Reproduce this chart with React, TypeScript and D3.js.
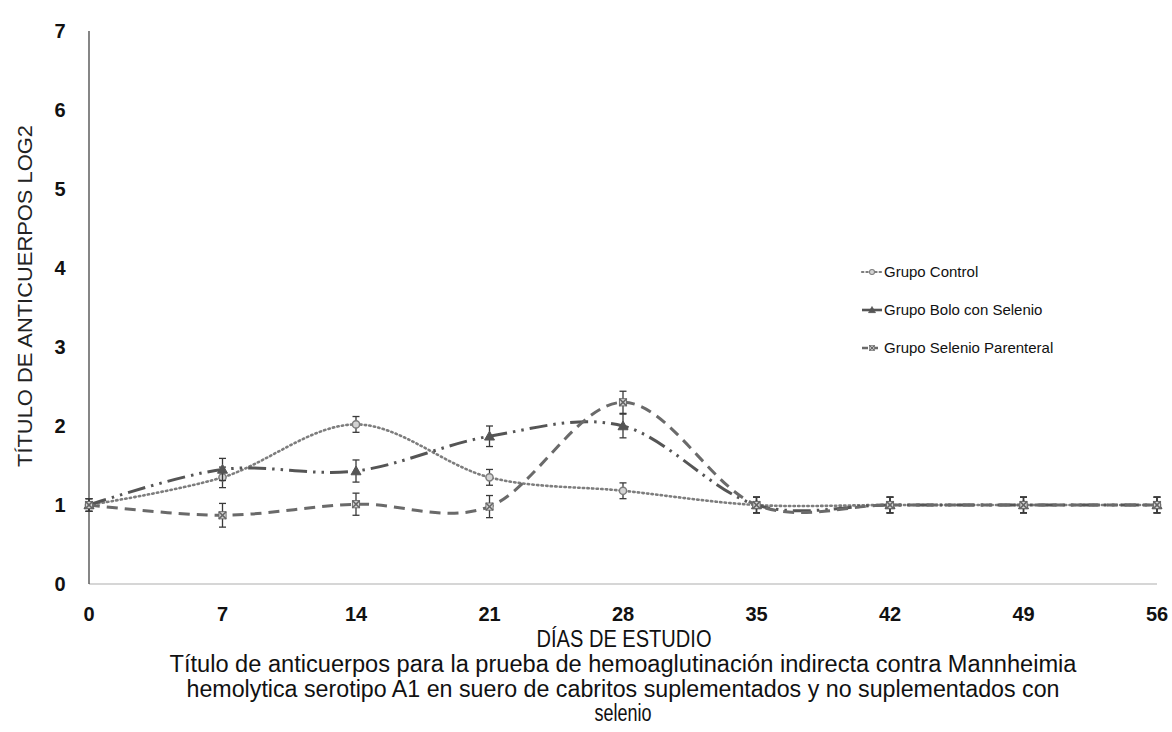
import React from "react";
import * as d3 from "d3";

const days = [0, 7, 14, 21, 28, 35, 42, 49, 56];
const yTicks = [0, 1, 2, 3, 4, 5, 6, 7];

const controlValues = [1.0, 1.35, 2.02, 1.35, 1.18, 1.0, 1.0, 1.0, 1.0];
const controlErrors = [0.08, 0.13, 0.1, 0.1, 0.1, 0.1, 0.1, 0.1, 0.1];

const boloValues = [1.0, 1.45, 1.43, 1.87, 2.0, 1.0, 1.0, 1.0, 1.0];
const boloErrors = [0.08, 0.14, 0.14, 0.13, 0.15, 0.1, 0.1, 0.1, 0.1];

const parenteralValues = [1.0, 0.87, 1.01, 0.98, 2.3, 1.0, 1.0, 1.0, 1.0];
const parenteralErrors = [0.08, 0.15, 0.14, 0.14, 0.14, 0.1, 0.1, 0.1, 0.1];

const seriesNames = ["Grupo Control", "Grupo Bolo con Selenio", "Grupo Selenio Parenteral"];

const captionLines = [
  "Título de anticuerpos para la prueba de hemoaglutinación indirecta  contra  Mannheimia",
  "hemolytica serotipo  A1 en suero de cabritos suplementados y no suplementados con",
  "selenio",
];
const captionWidths = [907, 873, 57];

type Series = {
  name: string;
  values: number[];
  errors: number[];
  color: string;
  dash: string;
  legendDash: string;
  width: number;
  cap: "round" | "butt";
  marker: "circle" | "triangle" | "x";
};

const series: Series[] = [
  { name: seriesNames[0], values: controlValues, errors: controlErrors, color: "#7d7d7d", dash: "1.4,3.2", legendDash: "1.4,3", width: 2.6, cap: "round", marker: "circle" },
  { name: seriesNames[1], values: boloValues, errors: boloErrors, color: "#555555", dash: "18,6,2.5,6,2.5,6", legendDash: "20", width: 3, cap: "butt", marker: "triangle" },
  { name: seriesNames[2], values: parenteralValues, errors: parenteralErrors, color: "#6a6a6a", dash: "11,7", legendDash: "6,4", width: 3, cap: "butt", marker: "x" },
];

const W = 1172;
const H = 732;
const x = d3.scaleLinear().domain([0, 56]).range([89, 1157]);
const y = d3.scaleLinear().domain([0, 7]).range([584, 31]);

function Marker({ kind, cx, cy, color }: { kind: string; cx: number; cy: number; color: string }) {
  if (kind === "circle") {
    return <circle cx={cx} cy={cy} r={3.6} fill="#d4d4d4" stroke={color} strokeWidth={1.5} />;
  }
  if (kind === "triangle") {
    const s = 5;
    return (
      <path
        d={`M${cx},${cy - s} L${cx + s},${cy + s * 0.75} L${cx - s},${cy + s * 0.75} Z`}
        fill="#555"
        stroke="#555"
        strokeWidth={1}
      />
    );
  }
  const s = 3.6;
  return (
    <g stroke="#666" strokeWidth={1.5} fill="none">
      <rect x={cx - s} y={cy - s} width={2 * s} height={2 * s} fill="#d6d6d6" strokeWidth={0.9} />
      <line x1={cx - s} y1={cy - s} x2={cx + s} y2={cy + s} />
      <line x1={cx - s} y1={cy + s} x2={cx + s} y2={cy - s} />
    </g>
  );
}

export default function App() {
  const line = d3
    .line<number>()
    .x((_, i) => x(days[i]))
    .y((v) => y(v))
    .curve(d3.curveCardinal.tension(0));

  const narrow = "'Liberation Sans Narrow', 'Arial Narrow', 'Liberation Sans', Arial, sans-serif";
  const sans = "'Liberation Sans', Arial, Helvetica, sans-serif";

  return (
    <svg
      width={W}
      height={H}
      style={{ position: "absolute", left: 0, top: 0, background: "#fff" }}
      fontFamily={sans}
    >
      <rect width={W} height={H} fill="#fff" />

      {/* axes */}
      <line x1={x(0)} x2={x(56)} y1={y(0)} y2={y(0)} stroke="#c8c8c8" strokeWidth={1.5} />
      <line x1={x(0)} x2={x(0)} y1={y(7)} y2={y(0)} stroke="#444" strokeWidth={1.3} />

      {yTicks.map((t) => (
        <text key={t} x={60} y={y(t)} dy="0.36em" textAnchor="middle" fontSize={20} fontWeight="bold" fill="#111">
          {t}
        </text>
      ))}
      {days.map((d) => (
        <text key={d} x={x(d)} y={621} textAnchor="middle" fontSize={20} fontWeight="bold" fill="#111">
          {d}
        </text>
      ))}

      <text
        transform={`translate(32,296) rotate(-90)`}
        textAnchor="middle"
        fontSize={20.5}
        fill="#222"
        textLength={342}
        lengthAdjust="spacingAndGlyphs"
      >
        TÍTULO DE ANTICUERPOS LOG2
      </text>

      <text x={624} y={647} textAnchor="middle" fontSize={23} fill="#111" fontFamily={narrow}
        textLength={175} lengthAdjust="spacingAndGlyphs">
        DÍAS DE ESTUDIO
      </text>
      {captionLines.map((c, i) => (
        <text
          key={i}
          x={623}
          y={672 + i * 24.5}
          textAnchor="middle"
          fontSize={23.5}
          fill="#111"
          fontFamily={narrow}
          textLength={captionWidths[i]}
          lengthAdjust="spacingAndGlyphs"
        >
          {c}
        </text>
      ))}

      {/* series lines */}
      {series.map((s) => (
        <path
          key={s.name}
          d={line(s.values) ?? ""}
          fill="none"
          stroke={s.color}
          strokeWidth={s.width}
          strokeDasharray={s.dash}
          strokeLinecap={s.cap}
        />
      ))}

      {/* error bars and markers */}
      {series.map((s) => (
        <g key={s.name + "-marks"}>
          {s.values.map((v, i) => {
            const cx = x(days[i]);
            const top = y(v + s.errors[i]);
            const bot = y(v - s.errors[i]);
            return (
              <g key={i}>
                <g stroke="#3a3a3a" strokeWidth={1.3}>
                  <line x1={cx} x2={cx} y1={top} y2={bot} />
                  <line x1={cx - 3.5} x2={cx + 3.5} y1={top} y2={top} />
                  <line x1={cx - 3.5} x2={cx + 3.5} y1={bot} y2={bot} />
                </g>
                <Marker kind={s.marker} cx={cx} cy={y(v)} color={s.color} />
              </g>
            );
          })}
        </g>
      ))}

      {/* legend */}
      {series.map((s, i) => {
        const ly = 272 + i * 38;
        return (
          <g key={s.name + "-legend"}>
            <line
              x1={862}
              x2={882}
              y1={ly}
              y2={ly}
              stroke={s.color}
              strokeWidth={s.width - 0.4}
              strokeDasharray={s.legendDash}
              strokeLinecap={s.cap}
            />
            <g transform={`translate(872,${ly}) scale(0.7) translate(-872,${-ly})`}>
              <Marker kind={s.marker} cx={872} cy={ly} color={s.color} />
            </g>
            <text x={884} y={ly} dy="0.35em" fontSize={15} fill="#111">
              {s.name}
            </text>
          </g>
        );
      })}
    </svg>
  );
}
